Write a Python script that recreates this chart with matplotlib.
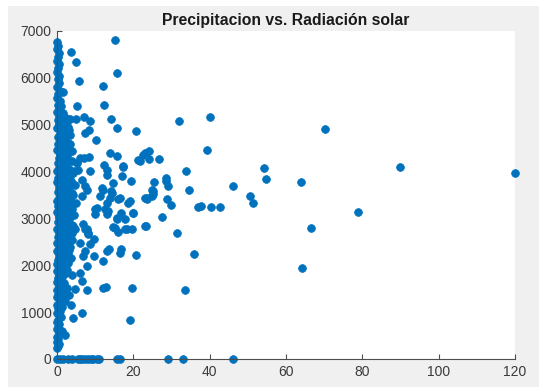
import matplotlib
matplotlib.use("Agg")
import matplotlib.pyplot as plt
from matplotlib.patches import Rectangle

plt.rcParams['font.family'] = ['Liberation Sans', 'DejaVu Sans']

# dense band of stations with almost no precipitation
col_x = [0.1, 0.3, 0.1, 0.4, 0.2, 0.1, 0.5, 0.2, 0.1, 0.4, 0.2, 0.6, 0.1, 0.9, 1.6, 0.3, 0.1, 0.7,
         0.2, 1.1, 0.4, 0.1, 1.5, 0.6, 2.4, 3.3, 0.2, 1.2, 2.0, 0.5, 3.0, 0.1, 1.4, 2.6, 0.7, 3.5,
         0.2, 1.8, 0.9, 2.9, 0.3, 1.3, 2.2, 0.1, 3.4, 0.8, 1.7, 2.7, 0.4, 1.1, 3.9, 0.2, 2.3, 1.5,
         0.6, 3.1, 0.1,
         1.9, 4.2, 0.8, 2.8, 0.3, 1.4, 3.6, 0.1, 2.2, 4.6, 1.0, 0.4, 3.0, 1.7, 0.2, 2.5, 4.1, 1.2,
         0.6, 3.4, 0.1, 2.0, 4.9, 1.5, 0.3, 2.9, 3.8, 0.9, 0.1, 2.3, 4.4, 1.3, 0.5, 3.2, 1.8, 0.2,
         2.7, 4.0, 0.8, 1.4, 0.1, 3.5, 2.1, 0.4, 1.1, 2.9, 0.2, 1.7, 3.8, 0.7, 0.1, 2.4, 1.3, 3.3,
         0.4, 2.0, 0.1, 1.0, 2.8, 0.5, 1.6, 3.6, 0.2, 2.3, 0.9, 0.1,
         1.8, 0.4, 1.1, 0.1, 2.4, 0.6, 1.3, 0.2, 0.9, 0.1, 1.5, 0.4, 2.6, 0.1, 0.8, 1.6, 0.3, 0.1,
         1.0, 2.2, 0.5, 0.1, 1.2, 0.3, 0.7, 0.1, 0.4, 1.0, 0.2, 0.1, 0.6, 0.2, 0.1, 1.3, 0.4, 2.0,
         0.1, 0.3, 0.1, 0.5, 0.2, 0.1,
         2.6, 1.9, 3.2, 2.4, 1.6, 3.3, 2.5, 1.8, 3.0, 2.4, 3.7, 1.6, 2.6, 3.2, 2.0, 3.9, 2.8, 1.8,
         3.6, 2.4, 1.6, 3.5, 2.6, 1.5, 3.3, 2.3, 3.9, 1.6, 2.8, 1.9, 3.1, 2.2, 1.4, 2.9, 1.7, 2.5,
         1.4, 1.8, 1.2, 2.0, 0.9, 0.6, 0.7, 0.9, 0.8, 0.9, 0.8, 0.9, 0.8, 0.9, 0.8, 1.0, 0.4, 0.5,
         0.4, 0.5, 0.4, 0.6]
col_y = [6760, 6690, 6610, 6530, 6450, 6370, 6290, 6210, 6130, 6050, 5970, 5890, 5810, 5730, 5700,
         5650, 5570, 5510,
         5430, 5400, 5350, 5270, 5240, 5190, 5150, 5120, 5110, 5060, 5020, 4990, 4960, 4920, 4880,
         4850, 4810, 4790, 4740, 4700, 4650, 4620, 4580, 4540, 4500, 4470, 4440, 4410, 4370, 4330,
         4300, 4260, 4230, 4190, 4160, 4120, 4080, 4050, 4020,
         3990, 3960, 3930, 3900, 3860, 3830, 3800, 3770, 3740, 3710, 3680, 3650, 3620, 3590, 3560,
         3530, 3500, 3470, 3440, 3410, 3380, 3350, 3320, 3290, 3260, 3230, 3200, 3170, 3140, 3110,
         3080, 3050, 3020, 2990, 2960, 2930, 2900, 2870, 2840, 2810, 2780, 2750, 2720, 2690, 2660,
         2630, 2600, 2570, 2540, 2510, 2480, 2450, 2420, 2390, 2360, 2330, 2300, 2270, 2240, 2210,
         2180, 2150, 2120, 2090, 2060, 2030,
         1990, 1950, 1910, 1870, 1840, 1800, 1760, 1720, 1680, 1640, 1600, 1560, 1520, 1480, 1440,
         1400, 1360, 1320, 1280, 1240, 1200, 1160, 1120, 1080, 1030, 990, 940, 890, 840, 790, 740,
         690, 640, 600, 560, 510, 470, 420, 370, 330, 280, 230,
         5080, 4930, 4890, 4760, 4610, 4580, 4420, 4280, 4200, 4060, 3950, 3920, 3810, 3670, 3630,
         3540, 3450, 3380, 3330, 3240, 3190, 3060, 2980, 2890, 2850, 2770, 2680, 2630, 2520, 2440,
         2320, 2210, 2140, 2050, 2000, 1900, 1780, 1620, 1500, 1380, 1530, 1620, 1880, 2190, 2480,
         2890, 3240, 3600, 3980, 4380, 4780, 5160, 5030, 4450, 3720, 3020, 2160, 1720]

# scattered stations
sc_x = [15.2, 3.7, 5.0, 5.8, 15.8, 12.1, 5.3, 12.4, 5.1, 7.0, 8.6, 14.2, 15.8, 20.7, 31.9, 40.1,
        8.5, 7.3, 10.1, 39.4, 70.1, 89.8, 119.9, 63.9, 64.3, 66.5, 78.9, 54.2, 54.8, 50.5, 51.3,
        37.0, 37.6, 40.4, 42.8, 34.5, 29.9, 27.4, 31.4, 36.0, 33.5, 23.2, 20.7, 19.6, 19.1, 16.6,
        16.8, 13.7, 13.2, 12.1, 12.8, 12.0, 9.8, 7.8, 7.9, 4.2, 6.5, 4.7, 3.9, 6.0, 6.5, 3.7, 3.2,
        19.8, 18.6, 19.6, 18.3, 16.8, 15.8, 14.7, 16.1, 16.5, 13.2, 10.4, 10.0, 13.4, 14.1, 6.7,
        7.3, 8.2, 6.0, 8.6, 6.7, 7.3, 9.7, 4.3, 23.5, 24.8, 25.2, 28.7, 24.2, 22.6, 24.2, 21.7,
        26.8, 33.8, 25.5, 28.5, 28.6, 29.2, 24.8, 25.1, 23.7, 46.0, 13.9, 15.6, 7.1, 8.5, 12.3,
        13.0, 17.2, 13.2, 19.4, 16.9, 14.8, 8.6, 6.5, 4.5, 5.2, 3.8, 11.7, 14.3, 7.3, 11.3, 7.8,
        6.5, 12.1, 13.9, 16.1, 19.1, 23.0, 10.0, 12.6, 13.0, 15.6, 20.0, 17.8, 23.0, 15.2, 17.8,
        7.8, 4.7, 8.2, 5.6, 23.0, 21.3, 17.4, 6.0]
sc_y = [6809, 6553, 6340, 5936, 6100, 5830, 5390, 5425, 5120, 5170, 5080, 5130, 4920, 4870, 5085,
        5165, 4894, 4823, 4681, 4453, 4900, 4100, 3964, 3773, 1943, 2794, 3142, 4078, 3844, 3475,
        3333, 3240, 3275, 3250, 3250, 3600, 3283, 3021, 2687, 2248, 1474, 2844, 2227, 1510, 823,
        2270, 2355, 2355, 2310, 2092, 1539, 1517, 2198, 1986, 1474, 865, 985, 1504, 1787, 1830,
        1666, 1163, 1362, 3106, 3334, 2779, 2766, 3121, 2993, 2823, 2709, 3440, 3334, 3227, 3085,
        3155, 3580, 2872, 2766, 2660, 2483, 2447, 2198, 2304, 2553, 2837, 3419, 3475, 3581, 3404,
        4430, 4362, 4270, 4220, 4270, 4006, 3773, 3865, 3794, 3688, 3617, 3511, 3426, 3702, 4397,
        4326, 4291, 4312, 4149, 4043, 4092, 3936, 3794, 3900, 3758, 4006, 3830, 4006, 4184, 4430,
        3652, 3546, 3688, 3475, 3617, 3475, 3617, 3440, 3404, 3370, 3440, 3191, 3191, 3085, 3014,
        3121, 2979, 2837, 2801, 2766, 2766, 2766, 2695, 4043, 4397, 4255, 4113, 4291]

# stations with zero radiation recorded
zero_x = [0.1, 0.8, 1.5, 3.0, 3.8, 5.5, 6.0, 6.5, 7.3, 8.2, 8.8, 9.5, 10.4, 11.0, 15.6, 16.5,
          29.2, 33.1, 46.2]
zero_y = [0] * len(zero_x)

xs = col_x + sc_x + zero_x
ys = col_y + sc_y + zero_y

fig = plt.figure(figsize=(5.39, 3.87), dpi=100, facecolor='white')
fig.patches.append(Rectangle((8 / 539, 0), 1, 1 - 6 / 387, transform=fig.transFigure,
                             facecolor='#f0f0f0', edgecolor='none', zorder=-10))

ax = fig.add_axes([57 / 539, (387 - 359) / 387, 458 / 539, 328 / 387])
ax.set_facecolor('white')
ax.plot(xs, ys, linestyle='none', marker='o', ms=5.6, color='#0072bd',
        markeredgecolor='#0072bd', markeredgewidth=0.5, clip_on=False)

ax.set_xlim(0, 120)
ax.set_ylim(0, 7000)
ax.set_xticks(range(0, 121, 20))
ax.set_yticks(range(0, 7001, 1000))
for side in ['top', 'right']:
    ax.spines[side].set_visible(False)
for side in ['left', 'bottom']:
    ax.spines[side].set_color('#4d4d4d')
    ax.spines[side].set_linewidth(0.8)
ax.tick_params(direction='in', length=3.5, width=0.8, color='#4d4d4d',
               labelcolor='#3a3a3a', labelsize=10, pad=4)

ax.set_title('Precipitacion vs. Radiación solar', fontsize=11.3, fontweight='bold',
             color='#1a1a1a', pad=4)

fig.savefig('out.png', dpi=100, facecolor=fig.get_facecolor())
